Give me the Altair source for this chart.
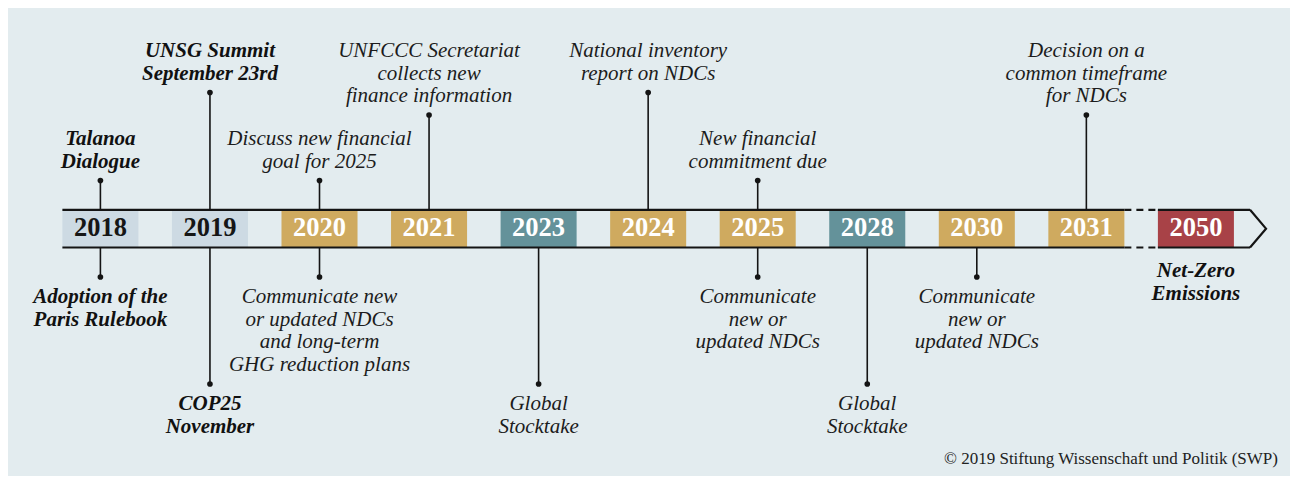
import altair as alt
import pandas as pd

# ---------------- data ----------------
years = ["2018", "2019", "2020", "2021", "2023", "2024", "2025", "2028", "2030", "2031", "2050"]
kinds = ["past", "past", "deadline", "deadline", "stocktake", "deadline",
         "deadline", "stocktake", "deadline", "deadline", "target"]

above_labels = [
    "Talanoa\nDialogue",
    "UNSG Summit\nSeptember 23rd",
    "Discuss new financial\ngoal for 2025",
    "UNFCCC Secretariat\ncollects new\nfinance information",
    "",
    "National inventory\nreport on NDCs",
    "New financial\ncommitment due",
    "",
    "",
    "Decision on a\ncommon timeframe\nfor NDCs",
    "",
]
above_tiers = ["near", "far", "near", "far", "", "far", "near", "", "", "far", ""]

below_labels = [
    "Adoption of the\nParis Rulebook",
    "COP25\nNovember",
    "Communicate new\nor updated NDCs\nand long-term\nGHG reduction plans",
    "",
    "Global\nStocktake",
    "",
    "Communicate\nnew or\nupdated NDCs",
    "Global\nStocktake",
    "Communicate\nnew or\nupdated NDCs",
    "",
    "Net-Zero\nEmissions",
]
below_tiers = ["near", "far", "near", "", "far", "", "near", "far", "near", "", "none"]

bold_years = ["2018", "2019", "2050"]
copyright_text = "\u00a9 2019 Stiftung Wissenschaft und Politik (SWP)"

KIND_DOMAIN = ["past", "deadline", "stocktake", "target"]
BOX_COLORS = ["#cddae3", "#cfaa5f", "#64929a", "#a84247"]
YEAR_TEXT_COLORS = ["#161616", "#ffffff", "#ffffff", "#ffffff"]

# ---------------- layout (styles / geometry) ----------------
W, H = 1282, 468
BG = "#e3ecef"
INK = "#141414"
FONT = "Liberation Serif"
TOP, BOT = 209.8, 247.5
MID = (TOP + BOT) / 2
BOX_HALF = 0.347
LH = 22.5
ABOVE_FIRST = {"far": 57, "near": 145}
BELOW_DOT = {"near": 277, "far": 384}
NOTE_BASE = 277

xscale = alt.Scale(domain=[-0.8435, 10.8589], nice=False, zero=False)
yscale = alt.Scale(domain=[8, 8 + H], nice=False, zero=False, reverse=True)

# ---------------- tables ----------------
boxes = pd.DataFrame({"slot": range(len(years)), "year": years, "kind": kinds})
boxes["x1"] = boxes["slot"] - BOX_HALF
boxes["x2"] = boxes["slot"] + BOX_HALF

stems, dots, labels = [], [], []
for i, yr in enumerate(years):
    bold = yr in bold_years
    t = above_labels[i]
    if t:
        n = len(t.split("\n"))
        first = ABOVE_FIRST[above_tiers[i]]
        dot = first + (n - 1) * LH + 13
        stems.append({"slot": i, "y": dot, "y2": TOP})
        dots.append({"slot": i, "y": dot})
        labels.append({"slot": i, "y": first, "text": t, "bold": bold})
    t = below_labels[i]
    if t:
        tier = below_tiers[i]
        if tier == "none":
            labels.append({"slot": i, "y": NOTE_BASE, "text": t, "bold": bold})
        else:
            dot = BELOW_DOT[tier]
            stems.append({"slot": i, "y": BOT, "y2": dot})
            dots.append({"slot": i, "y": dot})
            labels.append({"slot": i, "y": dot + 26, "text": t, "bold": bold})

stems = pd.DataFrame(stems)
dots = pd.DataFrame(dots)
labels = pd.DataFrame(labels)

last = len(years) - 1
first_x = 0 - BOX_HALF
gap_start = (last - 1) + BOX_HALF
gap_end = last - BOX_HALF
end_x = last + BOX_HALF + 0.147
tip_x = end_x + 0.146

solid = pd.DataFrame({
    "x": [first_x, first_x, gap_end, gap_end],
    "x2": [gap_start, gap_start, end_x, end_x],
    "y": [TOP, BOT, TOP, BOT],
})
dashed = pd.DataFrame({"x": [gap_start, gap_start], "x2": [gap_end, gap_end], "y": [TOP, BOT]})
arrow = pd.DataFrame({"x": [end_x, tip_x, end_x], "y": [TOP, MID, BOT], "o": [0, 1, 2]})

# ---------------- layers ----------------
X = lambda f: alt.X(f, type="quantitative", scale=xscale, axis=None)
Y = lambda f: alt.Y(f, type="quantitative", scale=yscale, axis=None)

box_layer = alt.Chart(boxes).mark_rect().encode(
    x=X("x1"), x2="x2",
    y=alt.value(TOP - 8),
    y2=alt.value(BOT - 8),
    color=alt.Color("kind:N", scale=alt.Scale(domain=KIND_DOMAIN, range=BOX_COLORS), legend=None),
)

solid_layer = alt.Chart(solid).mark_rule(color=INK, strokeWidth=2.2, strokeCap="butt").encode(
    x=X("x"), x2="x2", y=Y("y"))
dashed_layer = alt.Chart(dashed).mark_rule(color=INK, strokeWidth=2.2, strokeCap="butt",
                                           strokeDash=[7, 5]).encode(x=X("x"), x2="x2", y=Y("y"))
arrow_layer = alt.Chart(arrow).mark_line(color=INK, strokeWidth=2.2, strokeJoin="miter").encode(
    x=X("x"), y=Y("y"), order="o:Q")

stem_layer = alt.Chart(stems).mark_rule(color=INK, strokeWidth=1.6).encode(
    x=X("slot"), y=Y("y"), y2="y2")
dot_layer = alt.Chart(dots).mark_circle(color=INK, opacity=1, size=32).encode(
    x=X("slot"), y=Y("y"))

year_layer = alt.Chart(boxes).mark_text(font=FONT, fontWeight="bold", fontSize=26.5,
                                        baseline="middle", align="center").encode(
    x=X("slot"), y=alt.value(MID - 8.5), text="year:N",
    color=alt.Color("kind:N", scale=alt.Scale(domain=KIND_DOMAIN, range=YEAR_TEXT_COLORS), legend=None),
)

label_reg = alt.Chart(labels).transform_filter("!datum.bold").mark_text(
    font=FONT, fontStyle="italic", fontSize=21, lineHeight=LH, lineBreak="\n",
    align="center", baseline="alphabetic", color="#1c1c1c").encode(
    x=X("slot"), y=Y("y"), text="text:N")
label_bold = alt.Chart(labels).transform_filter("datum.bold").mark_text(
    font=FONT, fontStyle="italic", fontWeight="bold", fontSize=21, lineHeight=LH, lineBreak="\n",
    align="center", baseline="alphabetic", color="#111111").encode(
    x=X("slot"), y=Y("y"), text="text:N")

copy_layer = alt.Chart(pd.DataFrame({"t": [copyright_text]})).mark_text(
    font=FONT, fontSize=17, align="right", baseline="alphabetic", color="#222222").encode(
    x=alt.value(W - 12), y=alt.value(464 - 8), text="t:N")

chart = alt.layer(
    box_layer, solid_layer, dashed_layer, arrow_layer, stem_layer, dot_layer,
    year_layer, label_reg, label_bold, copy_layer,
).resolve_scale(color="independent").properties(
    width=W, height=H, background=BG, padding=0,
    autosize=alt.AutoSizeParams(type="none"),
).configure_view(stroke=None)

chart.save("out.html", embed_options={"renderer": "svg", "actions": False})
